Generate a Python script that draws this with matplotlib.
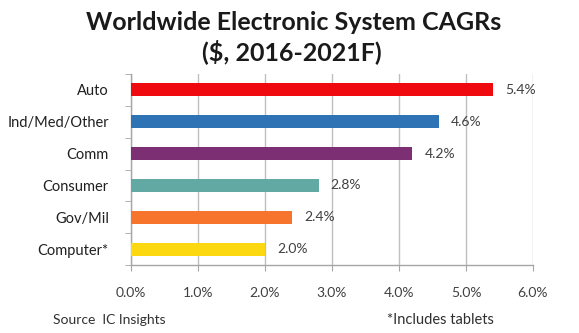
import matplotlib
matplotlib.use("Agg")
import matplotlib.pyplot as plt
import numpy as np

categories = ["Auto", "Ind/Med/Other", "Comm", "Consumer", "Gov/Mil", "Computer*"]
values = [5.4, 4.6, 4.2, 2.8, 2.4, 2.0]
colors = ["#EE0A0F", "#2E74B5", "#7D2F73", "#62A9A3", "#F7742C", "#FCD811"]
xticks = [0, 1, 2, 3, 4, 5, 6]
xticklabels = ["0.0%", "1.0%", "2.0%", "3.0%", "4.0%", "5.0%", "6.0%"]

plt.rcParams['font.family'] = ['Lato', 'DejaVu Sans']

fig = plt.figure(figsize=(5.79, 3.33), dpi=100)
ax = fig.add_axes([131/579, 1-265/333, (533-131)/579, (265-74)/333])

n = len(categories)
ypos = np.arange(n)[::-1]
ax.barh(ypos, values, height=0.41, color=colors, zorder=3)
for y, v in zip(ypos, values):
    ax.text(v + 0.18, y, f"{v:.1f}%", va="center", ha="left", fontsize=10, color="#404040")

ax.set_xlim(0, 6)
ax.set_ylim(-0.5, 5.5)
ax.set_xticks(xticks)
ax.set_xticklabels(xticklabels, fontsize=10, color="#404040")
ax.set_yticks(ypos)
ax.set_yticklabels(categories, fontsize=10.5, color="#202020")
ax.set_yticks(np.arange(-0.5, n, 1), minor=True)
ax.tick_params(axis="y", which="major", length=0, pad=16)
ax.tick_params(axis="y", which="minor", length=4, color="#A6A6A6", direction="out")
ax.tick_params(axis="x", which="major", length=4, color="#A6A6A6", direction="out", pad=12)
ax.grid(axis="x", color="#BFBFBF", linewidth=1, zorder=0)
for s in ["top", "right"]:
    ax.spines[s].set_visible(False)
for s in ["left", "bottom"]:
    ax.spines[s].set_color("#A6A6A6")
    ax.spines[s].set_linewidth(1)

fig.text(294/579, 1-22/333, "Worldwide Electronic System CAGRs", ha="center", va="center",
         fontsize=18, fontweight="bold", color="#1a1a1a")
fig.text(292/579, 1-52/333, "($, 2016-2021F)", ha="center", va="center",
         fontsize=18, fontweight="bold", color="#1a1a1a")
fig.text(53/579, 1-320/333, "Source  IC Insights", ha="left", va="center", fontsize=10, color="#303030")
fig.text(387/579, 1-320/333, "*Includes tablets", ha="left", va="center", fontsize=10.5, color="#303030")

fig.savefig("out.png", dpi=100, facecolor="white")
